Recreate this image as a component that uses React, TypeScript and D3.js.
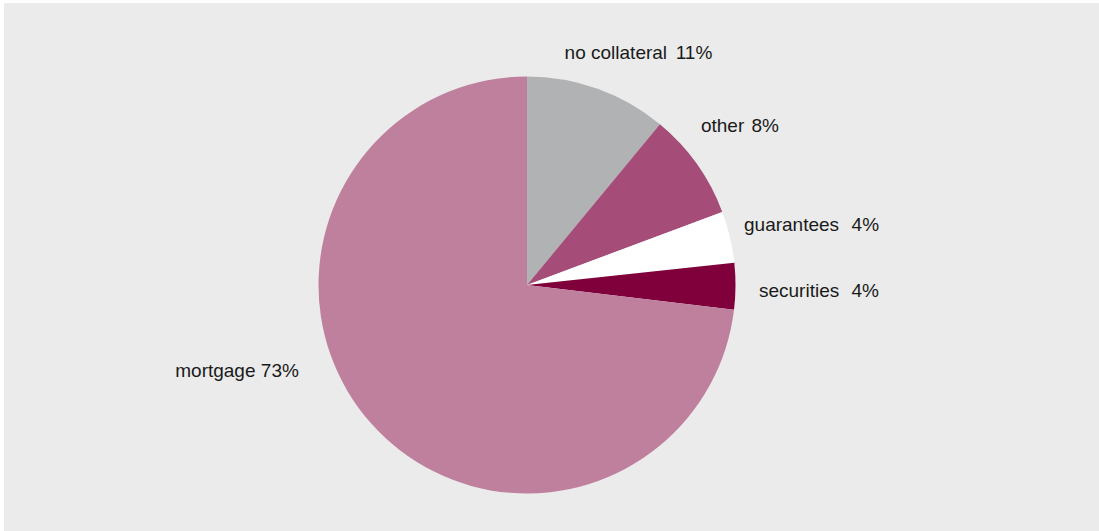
import React from "react";
import * as d3 from "d3";

const categories = ["no collateral", "other", "guarantees", "securities", "mortgage"];
const shares = [11, 8.3, 4, 3.6, 73.1];
const shareLabels = ["11%", "8%", "4%", "4%", "73%"];

const colors = ["#b1b2b4", "#a54c78", "#ffffff", "#7f003a", "#bf809e"];
// label placement (offset from label-arc centroid) and name/percent gap
const labelOffsets: [number, number][] = [[20, 28], [-7, 3.6], [21.8, 8.2], [22, 10.3], [-88, -87]];
const labelGaps = [8.6, 7.2, 12.5, 12.3, 5.3];

const W = 1099;
const H = 531;
const cx = 527;
const cy = 285;
const R = 208.5;

export default function App() {
  const data = categories.map((c, i) => ({ name: c, value: shares[i], label: shareLabels[i], i }));
  const pie = d3
    .pie<any>()
    .sort(null)
    .startAngle(0)
    .endAngle(2 * Math.PI)
    .value((d: any) => d.value);
  const arcs = pie(data);
  const arc = d3.arc<any>().innerRadius(0).outerRadius(R);
  const labelArc = d3.arc<any>().innerRadius(270).outerRadius(270);

  return (
    <svg
      width={W}
      height={H}
      style={{ position: "absolute", left: 0, top: 0, display: "block" }}
    >
      <rect x={0} y={0} width={W} height={H} fill="#ffffff" />
      <rect x={4} y={3} width={W - 4} height={H - 3} fill="#ebebeb" />
      <g transform={`translate(${cx},${cy})`}>
        {arcs.map((a, i) => (
          <path key={i} d={arc(a) as string} fill={colors[i]} />
        ))}
      </g>
      <g
        transform={`translate(${cx},${cy})`}
        fontFamily="'Liberation Sans', Arial, Helvetica, sans-serif"
        fontSize={19}
        fill="#1a1a1a"
      >
        {arcs.map((a, i) => {
          const [x, y] = labelArc.centroid(a);
          const [ox, oy] = labelOffsets[i];
          return (
            <text key={i} x={x + ox} y={y + oy} textAnchor="middle">
              {a.data.name}
              <tspan dx={labelGaps[i]}>{a.data.label}</tspan>
            </text>
          );
        })}
      </g>
    </svg>
  );
}
